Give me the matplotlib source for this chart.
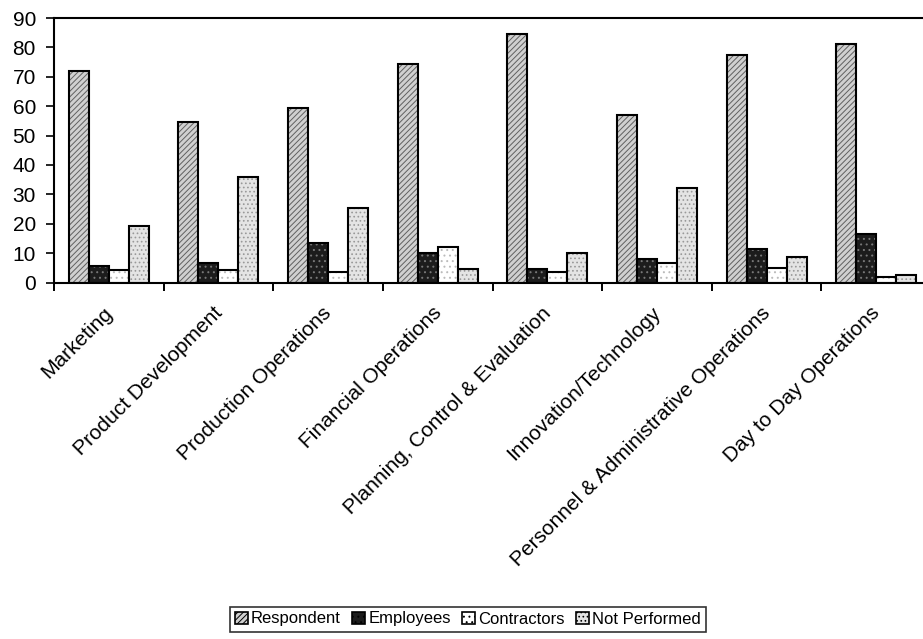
import numpy as np
import matplotlib
matplotlib.use('Agg')
import matplotlib.pyplot as plt
import matplotlib.transforms as mtransforms

plt.rcParams['font.family'] = ['Liberation Sans', 'DejaVu Sans']
plt.rcParams['hatch.linewidth'] = 0.7

categories = ['Marketing', 'Product Development', 'Production Operations',
              'Financial Operations', 'Planning, Control & Evaluation',
              'Innovation/Technology', 'Personnel & Administrative Operations',
              'Day to Day Operations']
respondent = [72, 54.5, 59.5, 74.5, 84.5, 57, 77.5, 81]
employees = [5.5, 6.5, 13.5, 10, 4.5, 8, 11.5, 16.5]
contractors = [4.2, 4.2, 3.5, 12, 3.7, 6.7, 4.8, 1.8]
not_performed = [19.3, 36, 25.5, 4.5, 10, 32, 8.8, 2.6]

# name, values, face, hatch, hatch colour
series = [('Respondent', respondent, '#d0d0d0', '//////', '#606060'),
          ('Employees', employees, '#1c1c1c', '...', '#777777'),
          ('Contractors', contractors, '#ffffff', '...', '#bbbbbb'),
          ('Not Performed', not_performed, '#e4e4e4', '....', '#999999')]

fig = plt.figure(figsize=(9.23, 6.39), dpi=100)
ax = fig.add_axes([54 / 923, 356.5 / 639, 877 / 923, 264.5 / 639])

x = np.arange(len(categories))
w = 0.1825
for i, (name, vals, fc, hatch, hc) in enumerate(series):
    pos = x + (i - 1.5) * w
    ax.bar(pos, vals, w, color=fc, edgecolor=hc, linewidth=0, hatch=hatch)
    ax.bar(pos, vals, w, fill=False, edgecolor='black', linewidth=1.5)

ax.set_xlim(-0.5, len(categories) - 0.5)
ax.set_ylim(0, 90)
ax.set_yticks(range(0, 91, 10))
ax.tick_params(axis='y', labelsize=15, length=6, width=1.2, direction='out', pad=7)

ax.set_xticks(x)
ax.set_xticklabels(categories, rotation=45, ha='right', rotation_mode='anchor',
                   fontsize=15)
ax.tick_params(axis='x', which='major', length=0, pad=15)
ax.set_xticks(np.arange(-0.5, len(categories), 1), minor=True)
ax.tick_params(axis='x', which='minor', length=6, width=1.4, direction='out')
shift = mtransforms.ScaledTranslation(-6 / 100, 0, fig.dpi_scale_trans)
for lab in ax.get_xticklabels():
    lab.set_transform(lab.get_transform() + shift)

for s in ax.spines.values():
    s.set_linewidth(1.5)

handles = [plt.Rectangle((0, 0), 1, 1, facecolor=fc, edgecolor='black',
                         hatch=hatch, linewidth=1.2)
           for name, vals, fc, hatch, hc in series]
leg = fig.legend(handles, [s[0] for s in series], loc='center',
                 bbox_to_anchor=(468 / 923, 1 - 619 / 639), ncol=4,
                 fontsize=12, frameon=True, fancybox=False, edgecolor='black',
                 handlelength=0.75, handleheight=0.75, handletextpad=0.2,
                 columnspacing=0.7, borderpad=0.3, borderaxespad=0)
leg.get_frame().set_linewidth(1.2)

fig.savefig('out.png', dpi=100)
